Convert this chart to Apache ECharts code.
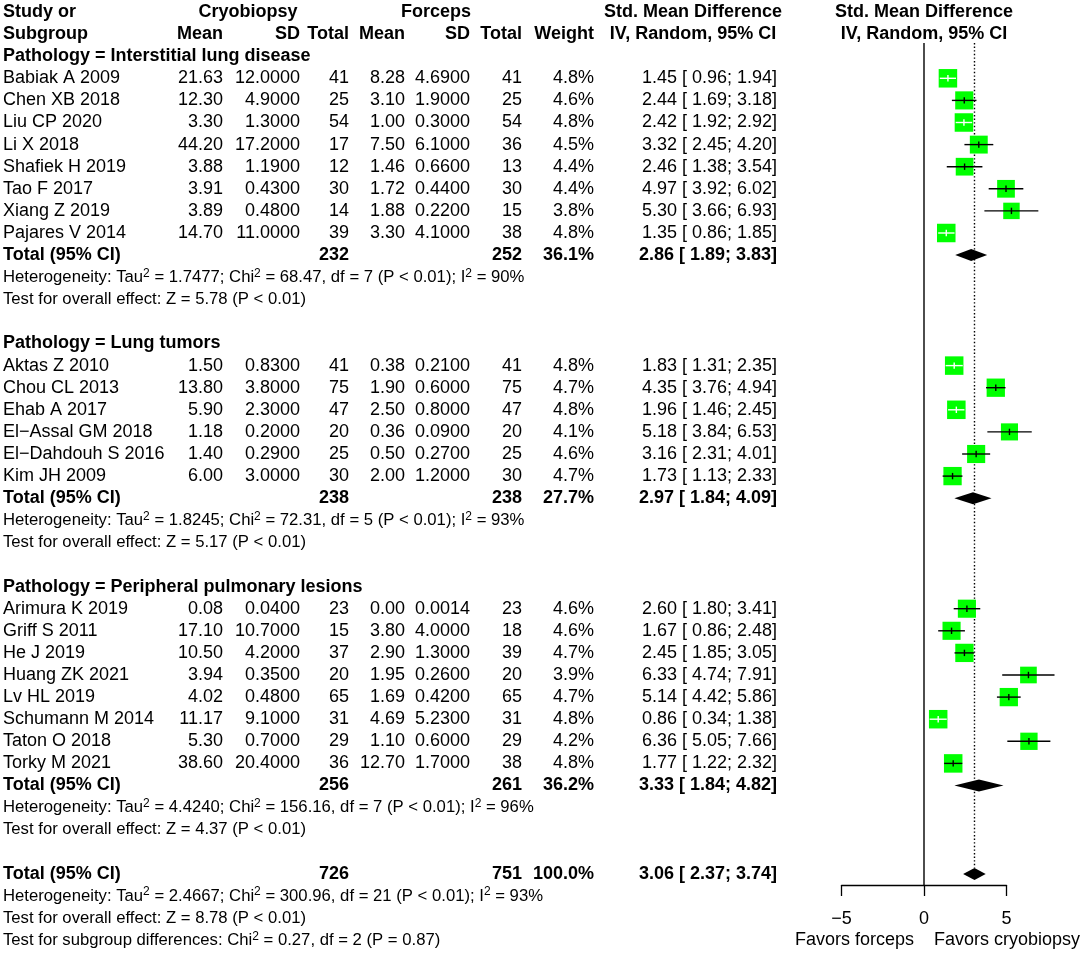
<!DOCTYPE html>
<html><head><meta charset="utf-8">
<script src="https://cdn.jsdelivr.net/npm/echarts/dist/echarts.min.js"></script>
<style>html,body{margin:0;padding:0;background:#fff}#chart{width:1084px;height:955px}</style>
</head><body><div id="chart"></div>
<script>
// ---------------- data ----------------
const studyNames = ['Babiak A 2009','Chen XB 2018','Liu CP 2020','Li X 2018','Shafiek H 2019','Tao F 2017','Xiang Z 2019','Pajares V 2014',
  'Aktas Z 2010','Chou CL 2013','Ehab A 2017','El\u2212Assal GM 2018','El\u2212Dahdouh S 2016','Kim JH 2009',
  'Arimura K 2019','Griff S 2011','He J 2019','Huang ZK 2021','Lv HL 2019','Schumann M 2014','Taton O 2018','Torky M 2021'];
const studyGroup = [0,0,0,0,0,0,0,0, 1,1,1,1,1,1, 2,2,2,2,2,2,2,2];
const cryoMean = [21.63,12.30,3.30,44.20,3.88,3.91,3.89,14.70, 1.50,13.80,5.90,1.18,1.40,6.00, 0.08,17.10,10.50,3.94,4.02,11.17,5.30,38.60];
const cryoSD = [12.0,4.9,1.3,17.2,1.19,0.43,0.48,11.0, 0.83,3.8,2.3,0.2,0.29,3.0, 0.04,10.7,4.2,0.35,0.48,9.1,0.7,20.4];
const cryoN = [41,25,54,17,12,30,14,39, 41,75,47,20,25,30, 23,15,37,20,65,31,29,36];
const forcMean = [8.28,3.10,1.00,7.50,1.46,1.72,1.88,3.30, 0.38,1.90,2.50,0.36,0.50,2.00, 0.00,3.80,2.90,1.95,1.69,4.69,1.10,12.70];
const forcSD = [4.69,1.9,0.3,6.1,0.66,0.44,0.22,4.1, 0.21,0.6,0.8,0.09,0.27,1.2, 0.0014,4.0,1.3,0.26,0.42,5.23,0.6,1.7];
const forcN = [41,25,54,36,13,30,15,38, 41,75,47,20,25,30, 23,18,39,20,65,31,29,38];
const studyWeight = [4.8,4.6,4.8,4.5,4.4,4.4,3.8,4.8, 4.8,4.7,4.8,4.1,4.6,4.7, 4.6,4.6,4.7,3.9,4.7,4.8,4.2,4.8];
const studySmd = [1.45,2.44,2.42,3.32,2.46,4.97,5.30,1.35, 1.83,4.35,1.96,5.18,3.16,1.73, 2.60,1.67,2.45,6.33,5.14,0.86,6.36,1.77];
const studyLow = [0.96,1.69,1.92,2.45,1.38,3.92,3.66,0.86, 1.31,3.76,1.46,3.84,2.31,1.13, 1.80,0.86,1.85,4.74,4.42,0.34,5.05,1.22];
const studyHigh = [1.94,3.18,2.92,4.20,3.54,6.02,6.93,1.85, 2.35,4.94,2.45,6.53,4.01,2.33, 3.41,2.48,3.05,7.91,5.86,1.38,7.66,2.32];

const groupLabels = ['Pathology = Interstitial lung disease','Pathology = Lung tumors','Pathology = Peripheral pulmonary lesions'];
const groupCryoN = [232,238,256];
const groupForcN = [252,238,261];
const groupWeight = [36.1,27.7,36.2];
const groupSmd = [2.86,2.97,3.33];
const groupLow = [1.89,1.84,1.84];
const groupHigh = [3.83,4.09,4.82];
const groupHet = ['Heterogeneity: Tau\u00b2 = 1.7477; Chi\u00b2 = 68.47, df = 7 (P < 0.01); I\u00b2 = 90%',
  'Heterogeneity: Tau\u00b2 = 1.8245; Chi\u00b2 = 72.31, df = 5 (P < 0.01); I\u00b2 = 93%',
  'Heterogeneity: Tau\u00b2 = 4.4240; Chi\u00b2 = 156.16, df = 7 (P < 0.01); I\u00b2 = 96%'];
const groupTest = ['Test for overall effect: Z = 5.78 (P < 0.01)','Test for overall effect: Z = 5.17 (P < 0.01)','Test for overall effect: Z = 4.37 (P < 0.01)'];

const overallCryoN = 726, overallForcN = 751, overallWeight = 100.0;
const overallSmd = 3.06, overallLow = 2.37, overallHigh = 3.74;
const overallHet = 'Heterogeneity: Tau\u00b2 = 2.4667; Chi\u00b2 = 300.96, df = 21 (P < 0.01); I\u00b2 = 93%';
const overallTest = 'Test for overall effect: Z = 8.78 (P < 0.01)';
const subgroupTest = 'Test for subgroup differences: Chi\u00b2 = 0.27, df = 2 (P = 0.87)';

const axisTicks = [-5, 0, 5];
const leftLabel = 'Favors forceps', rightLabel = 'Favors cryobiopsy';

// ---------------- layout ----------------
const W = 1084, H = 955;
const ROW0 = 12, ROWH = 22.1;
const FONT = '"Liberation Sans", Arial, Helvetica, sans-serif';
const F_MAIN = 18, F_SMALL = 16.7, F_SUP = 12;
const COL = {name:3, cMean:223, cSD:300, cN:349, fMean:405, fSD:470, fN:522, wt:594, ci:777,
  cryoHead:248, forcHead:436, smdHead:693, plotHead:924};
const PLOT_X0 = 924, PLOT_UNIT = 16.5, PLOT_TOP = 43, PLOT_AXIS_Y = 885;
const BOX = 18.5;

const f2 = v => v.toFixed(2);
const f4 = v => v.toFixed(4);
const ciText = (e, l, h) => f2(e) + ' [' + f2(l).padStart(5, ' ') + '; ' + f2(h) + ']';

// ---------------- build rows ----------------
const cells = [];
function cell(x, row, text, align, bold, size) { cells.push({x, row, text, align, bold: !!bold, size: size || F_MAIN}); }
cell(COL.name, 0, 'Study or', 'left', 1);
cell(COL.cryoHead, 0, 'Cryobiopsy', 'center', 1);
cell(COL.forcHead, 0, 'Forceps', 'center', 1);
cell(COL.smdHead, 0, 'Std. Mean Difference', 'center', 1);
cell(COL.plotHead, 0, 'Std. Mean Difference', 'center', 1);
cell(COL.name, 1, 'Subgroup', 'left', 1);
cell(COL.cMean, 1, 'Mean', 'right', 1);
cell(COL.cSD, 1, 'SD', 'right', 1);
cell(COL.cN, 1, 'Total', 'right', 1);
cell(COL.fMean, 1, 'Mean', 'right', 1);
cell(COL.fSD, 1, 'SD', 'right', 1);
cell(COL.fN, 1, 'Total', 'right', 1);
cell(COL.wt, 1, 'Weight', 'right', 1);
cell(COL.smdHead, 1, 'IV, Random, 95% CI', 'center', 1);
cell(COL.plotHead, 1, 'IV, Random, 95% CI', 'center', 1);

const studyPts = [];
const diamondPts = [];
let r = 2;
groupLabels.forEach((lab, g) => {
  cell(COL.name, r, lab, 'left', 1);
  const idx = studyGroup.map((gg, i) => gg === g ? i : -1).filter(i => i >= 0);
  idx.forEach((i, k) => {
    const row = r + 1 + k;
    cell(COL.name, row, studyNames[i], 'left');
    cell(COL.cMean, row, f2(cryoMean[i]), 'right');
    cell(COL.cSD, row, f4(cryoSD[i]), 'right');
    cell(COL.cN, row, String(cryoN[i]), 'right');
    cell(COL.fMean, row, f2(forcMean[i]), 'right');
    cell(COL.fSD, row, f4(forcSD[i]), 'right');
    cell(COL.fN, row, String(forcN[i]), 'right');
    cell(COL.wt, row, studyWeight[i].toFixed(1) + '%', 'right');
    cell(COL.ci, row, ciText(studySmd[i], studyLow[i], studyHigh[i]), 'right');
    studyPts.push([studySmd[i], row, studyLow[i], studyHigh[i], studyWeight[i]]);
  });
  const tr = r + idx.length + 1;
  cell(COL.name, tr, 'Total (95% CI)', 'left', 1);
  cell(COL.cN, tr, String(groupCryoN[g]), 'right', 1);
  cell(COL.fN, tr, String(groupForcN[g]), 'right', 1);
  cell(COL.wt, tr, groupWeight[g].toFixed(1) + '%', 'right', 1);
  cell(COL.ci, tr, ciText(groupSmd[g], groupLow[g], groupHigh[g]), 'right', 1);
  diamondPts.push([groupSmd[g], tr, groupLow[g], groupHigh[g]]);
  cell(COL.name, tr + 1, groupHet[g], 'left', 0, F_SMALL);
  cell(COL.name, tr + 2, groupTest[g], 'left', 0, F_SMALL);
  r = tr + 4;
});
const overallRow = r;
cell(COL.name, overallRow, 'Total (95% CI)', 'left', 1);
cell(COL.cN, overallRow, String(overallCryoN), 'right', 1);
cell(COL.fN, overallRow, String(overallForcN), 'right', 1);
cell(COL.wt, overallRow, overallWeight.toFixed(1) + '%', 'right', 1);
cell(COL.ci, overallRow, ciText(overallSmd, overallLow, overallHigh), 'right', 1);
diamondPts.push([overallSmd, overallRow, overallLow, overallHigh]);
cell(COL.name, overallRow + 1, overallHet, 'left', 0, F_SMALL);
cell(COL.name, overallRow + 2, overallTest, 'left', 0, F_SMALL);
cell(COL.name, overallRow + 3, subgroupTest, 'left', 0, F_SMALL);
const labelRow = overallRow + 3;

const yMinAll = -ROW0 / ROWH, yMaxAll = (H - ROW0) / ROWH;
const plotYMin = (PLOT_TOP - ROW0) / ROWH, plotYMax = (PLOT_AXIS_Y - ROW0) / ROWH;
const xMin = axisTicks[0], xMax = axisTicks[axisTicks.length - 1];
const maxW = Math.max(...studyWeight);

// superscript "2" rendered as a smaller raised rich-text token
function richify(t) { return t.replace(/[{}|]/g, '').replace(/\u00b2/g, '{s|2}'); }

const chart = echarts.init(document.getElementById('chart'), null, {renderer: 'canvas'});
chart.setOption({
  animation: false,
  backgroundColor: '#fff',
  grid: [
    {left: 0, top: 0, width: W, height: H},
    {left: PLOT_X0 + xMin * PLOT_UNIT, top: PLOT_TOP, width: (xMax - xMin) * PLOT_UNIT, height: PLOT_AXIS_Y - PLOT_TOP}
  ],
  xAxis: [
    {gridIndex: 0, type: 'value', min: 0, max: W, show: false},
    {gridIndex: 1, type: 'value', min: xMin, max: xMax, interval: 5,
     axisLine: {onZero: false, lineStyle: {color: '#000', width: 1.3}},
     axisTick: {length: 11, lineStyle: {color: '#000', width: 1.3}},
     splitLine: {show: false},
     axisLabel: {color: '#000', fontSize: F_MAIN, fontFamily: FONT, margin: 25,
       formatter: v => (v < 0 ? '\u2212' + Math.abs(v) : String(v))}}
  ],
  yAxis: [
    {gridIndex: 0, type: 'value', min: yMinAll, max: yMaxAll, inverse: true, show: false},
    {gridIndex: 1, type: 'value', min: plotYMin, max: plotYMax, inverse: true, show: false}
  ],
  series: [
    { // table text
      type: 'custom', xAxisIndex: 0, yAxisIndex: 0, silent: true,
      data: cells.map(c => [c.x, c.row]),
      renderItem: (params, api) => {
        const c = cells[params.dataIndex];
        const p = api.coord([c.x, c.row]);
        const hasSup = c.text.indexOf('\u00b2') >= 0;
        const style = {fill: '#000', align: c.align, verticalAlign: 'middle',
          font: (c.bold ? 'bold ' : '') + c.size + 'px ' + FONT};
        if (hasSup) {
          style.text = richify(c.text);
          style.fontSize = c.size; style.fontFamily = FONT; style.lineHeight = 20;
          style.rich = {s: {fontSize: F_SUP, fontFamily: FONT, fill: '#000', verticalAlign: 'top', lineHeight: 12}};
        } else {
          style.text = c.text;
        }
        return {type: 'text', x: p[0], y: p[1], style};
      }
    },
    { // reference lines
      type: 'custom', xAxisIndex: 1, yAxisIndex: 1, silent: true, clip: false,
      data: [[0, plotYMin, plotYMax, 0], [overallSmd, plotYMin, overallRow, 1]],
      renderItem: (params, api) => {
        const a = api.coord([api.value(0), api.value(1)]);
        const b = api.coord([api.value(0), api.value(2)]);
        const dotted = api.value(3) === 1;
        return {type: 'line', z2: dotted ? 1 : 5,
          shape: {x1: a[0], y1: a[1], x2: b[0], y2: dotted ? b[1] - 6 : b[1]},
          style: dotted ? {stroke: '#000', lineWidth: 1.4, lineDash: [1.4, 2.2]} : {stroke: '#000', lineWidth: 1.4}};
      }
    },
    { // study squares + CIs
      type: 'custom', xAxisIndex: 1, yAxisIndex: 1, silent: true, clip: false, z: 3,
      data: studyPts,
      renderItem: (params, api) => {
        const c = api.coord([api.value(0), api.value(1)]);
        const pl = api.coord([api.value(2), api.value(1)]);
        const ph = api.coord([api.value(3), api.value(1)]);
        const size = BOX * Math.sqrt(api.value(4) / maxW);
        const inside = (ph[0] - pl[0]) < size - 0.7;
        const col = inside ? '#fff' : '#000';
        return {type: 'group', children: [
          {type: 'rect', shape: {x: c[0] - size / 2, y: c[1] - size / 2, width: size, height: size}, style: {fill: '#00ff00'}},
          {type: 'line', shape: {x1: pl[0], y1: c[1], x2: ph[0], y2: c[1]}, style: {stroke: col, lineWidth: 1.4}},
          {type: 'line', shape: {x1: c[0], y1: c[1] - 3.2, x2: c[0], y2: c[1] + 3.2}, style: {stroke: col, lineWidth: 1.4}}
        ]};
      }
    },
    { // diamonds
      type: 'custom', xAxisIndex: 1, yAxisIndex: 1, silent: true, clip: false, z: 4,
      data: diamondPts,
      renderItem: (params, api) => {
        const c = api.coord([api.value(0), api.value(1)]);
        const pl = api.coord([api.value(2), api.value(1)]);
        const ph = api.coord([api.value(3), api.value(1)]);
        return {type: 'polygon', shape: {points: [[pl[0], c[1]], [c[0], c[1] - 6], [ph[0], c[1]], [c[0], c[1] + 6]]},
          style: {fill: '#000'}};
      }
    },
    { // favours labels
      type: 'custom', xAxisIndex: 1, yAxisIndex: 1, silent: true, clip: false,
      data: [[0, labelRow, 0], [0, labelRow, 1]],
      renderItem: (params, api) => {
        const right = api.value(2) === 1;
        const y = ROW0 + ROWH * api.value(1);
        const p = api.coord([api.value(0), plotYMin]);
        return {type: 'text', x: p[0] + (right ? 10 : -10), y: y,
          style: {text: right ? rightLabel : leftLabel, fill: '#000', align: right ? 'left' : 'right',
            verticalAlign: 'middle', font: F_MAIN + 'px ' + FONT}};
      }
    }
  ]
});
</script>
</body></html>
